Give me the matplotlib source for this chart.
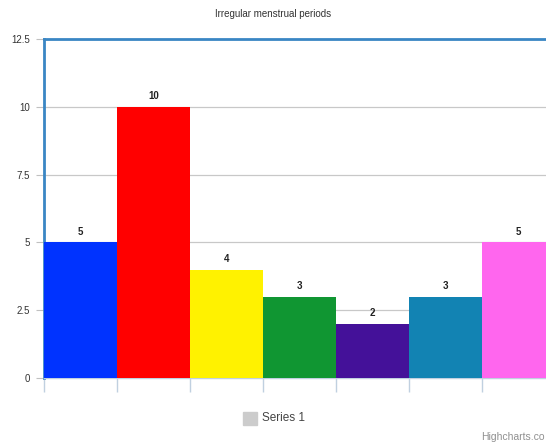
import matplotlib.pyplot as plt
import numpy as np

plt.rcParams['font.family'] = ['Liberation Sans', 'DejaVu Sans']

# data
categories = ['A', 'B', 'C', 'D', 'E', 'F', 'G']
values = [5, 10, 4, 3, 2, 3, 5]
bar_colors = ['#0033ff', '#ff0000', '#fff200', '#109632', '#441199', '#1283b3', '#ff66ee']
y_ticks = [0, 2.5, 5, 7.5, 10, 12.5]
y_tick_labels = ['0', '2.5', '5', '7.5', '10', '12.5']

fig = plt.figure(figsize=(5.46, 4.46), dpi=100)
ax = fig.add_axes([44 / 546, 1 - 378 / 446, (555 - 44) / 546, (378 - 39) / 446])

x = np.arange(len(values))
ax.bar(x, values, width=1.0, color=bar_colors, zorder=3)

for xi, v in zip(x, values):
    ax.annotate(str(v), (xi, v), xytext=(0, 4), textcoords='offset points',
                ha='center', va='bottom', fontsize=7, fontweight='bold', color='#222222')

ax.set_xlim(-0.5, 6.5)
ax.set_ylim(0, 12.5)
ax.set_yticks(y_ticks)
ax.set_yticklabels(y_tick_labels, fontsize=7, color='#333333')
ax.yaxis.grid(True, color='#c8c8c8', linewidth=0.9, zorder=0)
ax.tick_params(axis='y', length=6, color='#c0c0c0', pad=4)

# category boundary ticks under the axis
ax.set_xticks(np.arange(-0.5, 6.5, 1.0))
ax.set_xticklabels([])
ax.tick_params(axis='x', length=10, color='#c0d0e0', width=1)

for side in ['left', 'top', 'right']:
    ax.spines[side].set_color('#3a86c4')
    ax.spines[side].set_linewidth(2)
ax.spines['bottom'].set_color('#c0d0e0')
ax.spines['bottom'].set_linewidth(1)

fig.text(0.5, 1 - 14 / 446, 'Irregular menstrual periods', ha='center', va='center',
         fontsize=7, color='#333333')

# legend box and label
fig.patches.append(plt.Rectangle((243 / 546, 1 - 425 / 446), 14 / 546, 13 / 446,
                                 transform=fig.transFigure, color='#cccccc'))
fig.text(262 / 546, 1 - 418 / 446, 'Series 1', ha='left', va='center', fontsize=8.5, color='#444444')

fig.text(545 / 546, 1 - 437 / 446, 'Highcharts.co', ha='right', va='center', fontsize=7.5, color='#909090')

fig.savefig('out.png', dpi=100)
